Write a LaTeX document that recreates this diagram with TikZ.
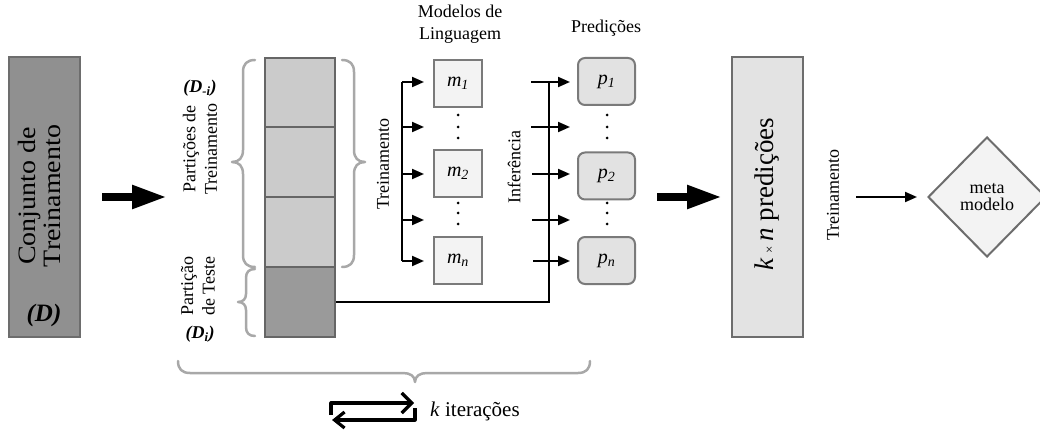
\documentclass[tikz,border=0pt]{standalone}
\usepackage{fontspec}
\setmainfont{Liberation Serif}
\usetikzlibrary{arrows.meta,shapes.geometric,calc}
\definecolor{dfill}{HTML}{909090}
\definecolor{dborder}{HTML}{6D6D6D}
\definecolor{clight}{HTML}{CBCBCB}
\definecolor{cdark}{HTML}{9A9A9A}
\definecolor{cborder}{HTML}{666666}
\definecolor{mfill}{HTML}{F3F3F3}
\definecolor{pfill}{HTML}{E2E2E2}
\definecolor{rfill}{HTML}{E3E3E3}
\definecolor{bborder}{HTML}{7A7A7A}
\definecolor{bracecol}{HTML}{A8A8A8}
\tikzset{
  bigbox/.style={draw=dborder, line width=2pt, inner sep=0pt, minimum width=71pt, minimum height=280pt},
  colbox/.style={draw=cborder, line width=2pt, inner sep=0pt, minimum width=70pt, minimum height=70pt},
  mbox/.style={draw=bborder, fill=mfill, line width=2pt, inner sep=0pt, minimum width=48pt, minimum height=47pt, font=\fontsize{20}{20}\selectfont},
  pbox/.style={draw=bborder, fill=pfill, line width=2pt, rounded corners=7pt, inner sep=0pt, minimum width=57pt, minimum height=47pt, font=\fontsize{20}{20}\selectfont},
  lbl/.style={font=\fontsize{18}{21.5}\selectfont, align=center, inner sep=0pt},
  vlbl/.style={lbl, rotate=90},
  thickarr/.style={line width=8pt, -{Triangle[length=35pt,width=22pt]}},
  thinarr/.style={line width=2pt, -{Triangle[length=12pt,width=10pt]}},
  thinline/.style={line width=2pt},
  bracestyle/.style={draw=bracecol, line width=2.5pt, line cap=round, line join=round},
  vdots/.style={fill=black, circle, inner sep=0pt, minimum size=3pt},
  cyc/.style={line width=3.2pt, line join=round}
}
\begin{document}
\begin{tikzpicture}[x=1pt,y=-1pt]
\useasboundingbox (0,0) rectangle (1040,430);

% Conjunto de Treinamento
\node[bigbox, fill=dfill] (D) at (44.5,197) {};
\node[rotate=90, align=center, inner sep=0pt, font=\fontsize{25}{25}\selectfont] (Dtxt) at (39,196) {\scalebox{1.12}[1]{Conjunto de}\\\scalebox{1.12}[1]{Treinamento}};
\node[inner sep=0pt, font=\fontsize{25}{25}\selectfont\bfseries\itshape] (Dlab) at (44,315) {(D)};

% thick arrow 1
\coordinate (a1s) at (102,197);
\coordinate (a1e) at (167,197);
\draw[thickarr] (a1s) -- (a1e);

% partition labels
\node[inner sep=0pt, font=\fontsize{18}{18}\selectfont\bfseries\itshape] (Dmi) at (200,88) {(D\textsubscript{-\textit{i}})};
\node[vlbl] (parttr) at (200,149) {Partições de\\Treinamento};
\node[vlbl] (partte) at (198,286) {Partição\\de Teste};
\node[inner sep=0pt, font=\fontsize{18}{18}\selectfont\bfseries\itshape] (Di) at (200,334) {(D\textsubscript{\textit{i}})};

% braces
\draw[bracestyle] (255,60) .. controls (247,60) and (243,64) .. (243,72) -- (243,150) .. controls (243,158) and (239,162) .. (232,162) .. controls (239,162) and (243,166) .. (243,174) -- (243,255) .. controls (243,263) and (247,267) .. (255,267);
\draw[bracestyle] (255,269) .. controls (249,269) and (246,272) .. (246,278) -- (246,294) .. controls (246,299) and (243,302) .. (238,302) .. controls (243,302) and (246,305) .. (246,310) -- (246,327) .. controls (246,333) and (249,336) .. (255,336);
\draw[bracestyle] (342,60) .. controls (350,60) and (354,64) .. (354,72) -- (354,150) .. controls (354,158) and (358,162) .. (365,162) .. controls (358,162) and (354,166) .. (354,174) -- (354,255) .. controls (354,263) and (350,267) .. (342,267);
\draw[bracestyle] (178,361) .. controls (178,369) and (182,373) .. (190,373) -- (403,373) .. controls (410,373) and (415,376) .. (415,382) .. controls (415,376) and (420,373) .. (427,373) -- (578,373) .. controls (586,373) and (590,369) .. (590,361);

% column
\node[colbox, fill=clight] (c1) at (300,93) {};
\node[colbox, fill=clight] (c2) at (300,162.5) {};
\node[colbox, fill=clight] (c3) at (300,232) {};
\node[colbox, fill=cdark] (c4) at (300,302) {};

% titles
\node[lbl] (tmod) at (460,24) {Modelos de\\Linguagem};
\node[lbl] (tpred) at (606,28) {Predições};

% models
\node[mbox] (m1) at (458,83.5) {\textit{m}\textsubscript{\textit{1}}};
\node[mbox] (m2) at (458,173.5) {\textit{m}\textsubscript{\textit{2}}};
\node[mbox] (mn) at (458,260.5) {\textit{m}\textsubscript{\textit{n}}};
\foreach \yy/\nm in {115/a,127/b,138/c,203/d,213/e,224/f}{
  \node[vdots] (md\nm) at (458,\yy) {};
  \node[vdots] (pd\nm) at (607,\yy) {};
}

% predictions
\node[pbox] (p1) at (606.5,81.5) {\textit{p}\textsubscript{\textit{1}}};
\node[pbox] (p2) at (606.5,176) {\textit{p}\textsubscript{\textit{2}}};
\node[pbox] (pn) at (606.5,260.5) {\textit{p}\textsubscript{\textit{n}}};

% training arrows
\coordinate (tt) at (402,82);
\coordinate (tb) at (402,261);
\draw[thinline] (tt) -- (tb);
\foreach \yy/\nm in {82/a,127/b,174/c,220/d,261/e}{
  \coordinate (ts\nm) at (402,\yy);
  \coordinate (te\nm) at (424,\yy);
  \draw[thinarr] (ts\nm) -- (te\nm);
}
\node[vlbl] (ltr) at (383,164) {Treinamento};

% inference
\coordinate (itop) at (549,82);
\draw[thinline] (c4.east) -| (itop);
\foreach \yy/\xs/\nm in {82/531/a,127/531/b,174/532/c,220/532/d,261/533/e}{
  \coordinate (is\nm) at (\xs,\yy);
  \coordinate (ie\nm) at (570,\yy);
  \draw[thinarr] (is\nm) -- (ie\nm);
}
\node[vlbl] (linf) at (514,167) {Inferência};

% thick arrow 2
\coordinate (a2s) at (657,197);
\coordinate (a2e) at (722,197);
\draw[thickarr] (a2s) -- (a2e);

% k x n predicoes
\node[bigbox, fill=rfill] (R) at (767.5,197) {};
\node[rotate=90, inner sep=0pt, font=\fontsize{27}{27}\selectfont] (Rtxt) at (767,194) {\textit{k}\,{\fontsize{13}{13}\selectfont ×}\,\textit{n} predições};

% training to meta model
\node[vlbl] (ltr2) at (833,195) {Treinamento};
\coordinate (a3s) at (856,197);
\coordinate (a3e) at (917,197);
\draw[thinarr] (a3s) -- (a3e);
\node[diamond, draw=dborder, fill=mfill, line width=2pt, inner sep=0pt, minimum width=118pt, minimum height=120pt, align=center, font=\fontsize{18}{17}\selectfont] (meta) at (987,197) {meta\\modelo};

% iterations icon
\coordinate (ca) at (331,415);
\coordinate (cb) at (331,403);
\coordinate (cc) at (414,403);
\draw[cyc, -{Straight Barb[length=10pt,width=20pt]}] (ca) -- (cb) -- (cc);
\coordinate (cd) at (415,408);
\coordinate (ce) at (415,420);
\coordinate (cf) at (332,420);
\draw[cyc, -{Straight Barb[length=10pt,width=16pt]}] (cd) -- (ce) -- (cf);
\node[anchor=west, inner sep=0pt, font=\fontsize{21}{21}\selectfont] (kit) at (430,411) {\textit{k} iterações};
\end{tikzpicture}
\end{document}
